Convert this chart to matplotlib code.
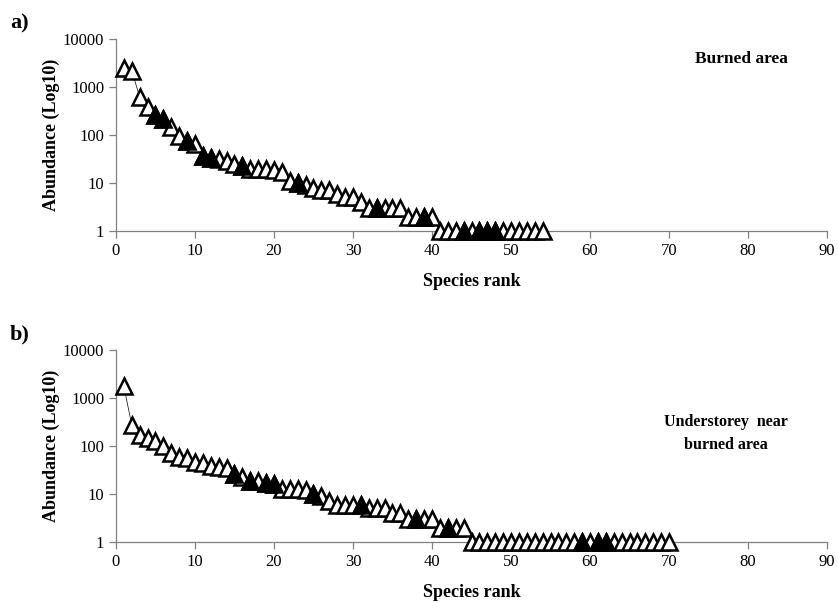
import matplotlib.pyplot as plt
import matplotlib.ticker as mticker
import numpy as np

plt.rcParams['font.family'] = ['Liberation Serif', 'DejaVu Serif']

# Panel a) burned area: abundance by species rank
abund_a = [2500, 2150, 630, 375, 265, 215, 145, 97, 75, 64,
           36, 33, 32, 29, 25, 23, 20, 20, 20, 19,
           17, 11, 10, 9, 8, 7, 7, 6, 5, 5,
           4, 3, 3, 3, 3, 3, 2, 2, 2, 2,
           1, 1, 1, 1, 1, 1, 1, 1, 1, 1, 1, 1, 1, 1]
filled_a = [5, 6, 9, 11, 12, 16, 23, 33, 39, 44, 46, 47, 48]

# Panel b) understorey near burned area
abund_b = [1750, 270, 170, 145, 128, 100, 72, 58, 56, 47,
           45, 39, 36, 35, 26, 23, 19, 19, 17, 16,
           13, 13, 13, 12, 10, 9, 7, 6, 6, 6,
           6, 5, 5, 5, 4, 4, 3, 3, 3, 3,
           2, 2, 2, 2, 1, 1, 1, 1, 1, 1,
           1, 1, 1, 1, 1, 1, 1, 1, 1, 1,
           1, 1, 1, 1, 1, 1, 1, 1, 1, 1]
filled_b = [15, 17, 19, 20, 25, 31, 38, 42, 59, 61, 62]

panels = [("a)", "Burned area", (0.88, 0.895), 12.5, abund_a, filled_a),
          ("b)", "Understorey  near\nburned area", (0.858, 0.565), 11.5, abund_b, filled_b)]

fig = plt.figure(figsize=(8.38, 6.03), dpi=100)
boxes = [[0.1384, 0.6169, 0.8485, 0.3184],
         [0.1384, 0.1012, 0.8485, 0.3184]]

for box, (tag, note, note_xy, note_fs, vals, filled) in zip(boxes, panels):
    ax = fig.add_axes(box)
    rank = np.arange(1, len(vals) + 1)
    vals = np.array(vals, dtype=float)
    ax.plot(rank, vals, color='black', lw=0.5, zorder=2)
    ax.plot(rank, vals, ls='none', marker='^', ms=11.5, mfc='white',
            mec='black', mew=1.8, clip_on=False, zorder=3)
    idx = np.array(filled) - 1
    ax.plot(rank[idx], vals[idx], ls='none', marker='^', ms=11.5, mfc='black',
            mec='black', mew=1.8, clip_on=False, zorder=4)

    ax.set_yscale('log')
    ax.set_ylim(1, 10000)
    ax.set_xlim(0, 90)
    ax.set_xticks(range(0, 91, 10))
    ax.set_yticks([1, 10, 100, 1000, 10000])
    ax.yaxis.set_major_formatter(mticker.FuncFormatter(lambda v, p: f"{int(round(v))}"))
    ax.yaxis.set_minor_locator(mticker.NullLocator())
    for s in ['top', 'right']:
        ax.spines[s].set_visible(False)
    for s in ['left', 'bottom']:
        ax.spines[s].set_color('#808080')
        ax.spines[s].set_linewidth(0.9)
    ax.tick_params(direction='out', length=5, width=0.9, color='#808080',
                   labelsize=12)
    ax.set_xlabel("Species rank", fontsize=13, fontweight='bold', labelpad=10)
    ax.set_ylabel("Abundance (Log10)", fontsize=13, fontweight='bold', labelpad=2)
    ax.text(-0.149, 1.08, tag, transform=ax.transAxes, fontsize=16,
            fontweight='bold', va='center', ha='left')
    ax.text(note_xy[0], note_xy[1], note, transform=ax.transAxes, fontsize=note_fs,
            fontweight='bold', ha='center', va='center', linespacing=1.6)

fig.savefig("out.png", dpi=100)
